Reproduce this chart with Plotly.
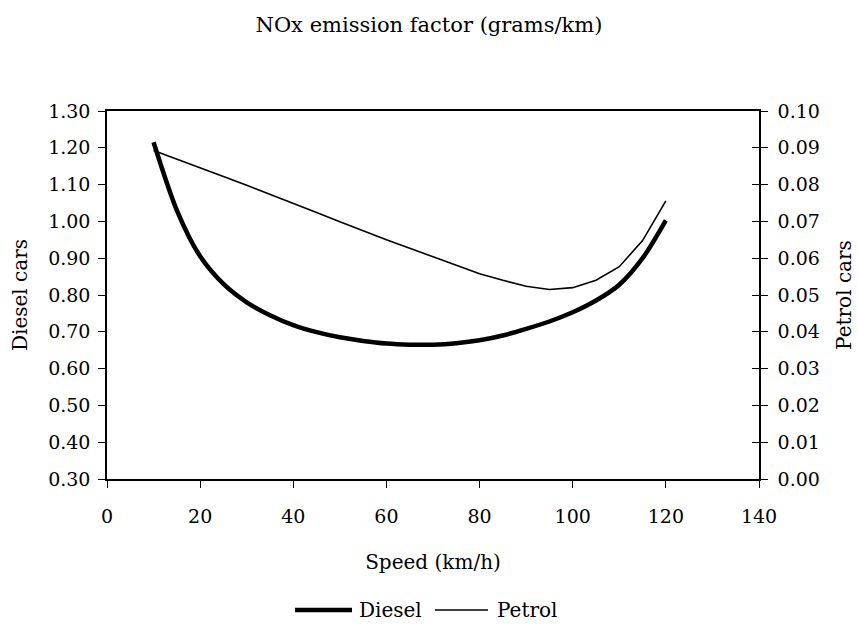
import plotly.graph_objects as go

speed = [10, 15, 20, 25, 30, 35, 40, 45, 50, 55, 60, 65, 70, 75, 80, 85, 90, 95, 100, 105, 110, 115, 120]
diesel = [1.215, 1.03, 0.905, 0.83, 0.78, 0.745, 0.718, 0.699, 0.685, 0.675, 0.668, 0.665, 0.665,
          0.669, 0.677, 0.690, 0.708, 0.728, 0.753, 0.785, 0.828, 0.900, 1.003]
petrol = [0.0893, 0.0870, 0.0846, 0.0822, 0.0798, 0.0774, 0.0749, 0.0724, 0.0699, 0.0674, 0.0650,
          0.0627, 0.0604, 0.0580, 0.0558, 0.0540, 0.0524, 0.0515, 0.0520, 0.0540, 0.0577, 0.0648, 0.0756]

left_ticks = [0.30, 0.40, 0.50, 0.60, 0.70, 0.80, 0.90, 1.00, 1.10, 1.20, 1.30]
right_ticks = [0.00, 0.01, 0.02, 0.03, 0.04, 0.05, 0.06, 0.07, 0.08, 0.09, 0.10]
x_ticks = [0, 20, 40, 60, 80, 100, 120, 140]
series_names = ["Diesel", "Petrol"]

FONT = "DejaVu Serif"
W, H = 858, 624
L, R, T, B = 107, 99, 111, 145
PW, PH = W - L - R, H - T - B


def px_x(p):
    return (p - L) / PW


def px_y(p):
    return (H - B - p) / PH


fig = go.Figure()
fig.add_trace(go.Scatter(x=speed, y=diesel, name=series_names[0], mode="lines",
                         line=dict(color="black", width=4.5, shape="spline", smoothing=0.8),
                         yaxis="y", showlegend=False))
fig.add_trace(go.Scatter(x=speed, y=petrol, name=series_names[1], mode="lines",
                         line=dict(color="black", width=1.6),
                         yaxis="y2", showlegend=False))
# helper trace so the cross-tick axis renders
fig.add_trace(go.Scatter(x=[None], y=[None], yaxis="y3", showlegend=False, hoverinfo="skip"))

# legend drawn below the plot (swatch + label)
legend_items = [(series_names[0], 4.5, 295, 352, 357), (series_names[1], 1.6, 435, 488, 495)]
shapes, annotations = [], []
for name, lw, x0, x1, tx in legend_items:
    shapes.append(dict(type="line", xref="paper", yref="paper", x0=px_x(x0), x1=px_x(x1),
                       y0=px_y(610), y1=px_y(610), line=dict(color="black", width=lw)))
    annotations.append(dict(text=name, xref="paper", yref="paper", x=px_x(tx), y=px_y(610),
                            xanchor="left", yanchor="middle", showarrow=False,
                            font=dict(family=FONT, size=20, color="black")))

fig.update_layout(
    width=W, height=H,
    margin=dict(l=L, r=R, t=T, b=B),
    paper_bgcolor="white", plot_bgcolor="white",
    font=dict(family=FONT, size=19, color="black"),
    title=dict(text="NOx emission factor (grams/km)", x=0.5, xanchor="center",
               y=1 - 25 / 624, yanchor="middle", yref="container",
               font=dict(family=FONT, size=21, color="black")),
    xaxis=dict(range=[0, 140], tickvals=x_ticks, ticktext=[str(v) for v in x_ticks],
               showgrid=False, zeroline=False, showline=True, linecolor="black", linewidth=1.5,
               mirror=True, ticks="outside", ticklen=7, tickcolor="black", tickwidth=1,
               ticklabelstandoff=12,
               title=dict(text="Speed (km/h)", standoff=29, font=dict(size=20)),
               automargin=False),
    yaxis=dict(range=[0.30, 1.30], tickvals=left_ticks, ticktext=[f"{v:.2f}" for v in left_ticks],
               showgrid=False, zeroline=False, showline=True, linecolor="black", linewidth=1.5,
               ticks="outside", ticklen=7, tickcolor="black", tickwidth=1,
               ticklabelstandoff=4,
               title=dict(text="Diesel cars", standoff=15, font=dict(size=20)),
               automargin=False),
    yaxis2=dict(range=[0.0, 0.10], tickvals=right_ticks, ticktext=[f"{v:.2f}" for v in right_ticks],
                overlaying="y", side="right",
                showgrid=False, zeroline=False, showline=True, linecolor="black", linewidth=1.5,
                ticks="outside", ticklen=7, tickcolor="black", tickwidth=1,
                ticklabelstandoff=6,
                title=dict(text="Petrol cars", standoff=18, font=dict(size=20)),
                automargin=False),
    yaxis3=dict(range=[0.0, 0.10], tickvals=right_ticks, overlaying="y", side="right",
                showticklabels=False, showgrid=False, zeroline=False, showline=False,
                ticks="inside", ticklen=7, tickcolor="black", tickwidth=1, automargin=False),
    shapes=shapes,
    annotations=annotations,
    showlegend=False,
)

fig.write_html("out.html")
